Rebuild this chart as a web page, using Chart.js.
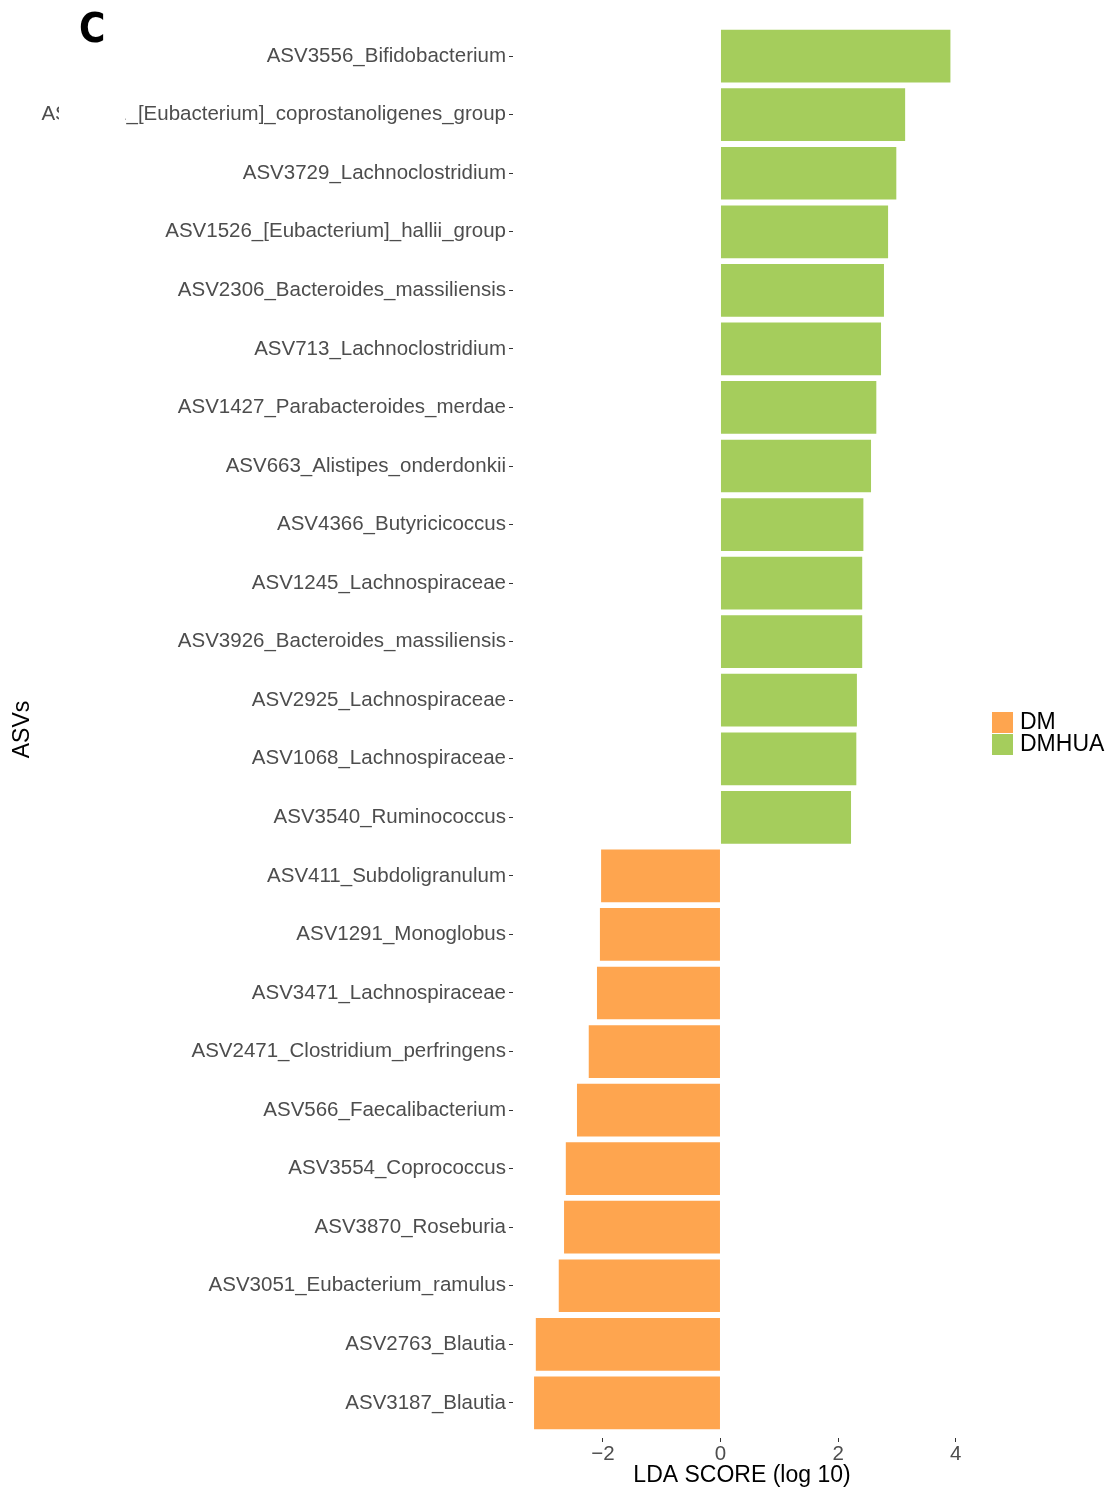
<!DOCTYPE html>
<html>
<head>
<meta charset="utf-8">
<script src="https://cdn.jsdelivr.net/npm/chart.js@4.4.1/dist/chart.umd.min.js"></script>
<style>
  html, body { margin: 0; padding: 0; background: #fff; }
  #wrap { position: relative; width: 1106px; height: 1489px; }
</style>
</head>
<body>
<div id="wrap"><canvas id="ldaChart"></canvas></div>
<script>
// ASVs from top to bottom
const asvLabels = [
    'ASV3556_Bifidobacterium',
    'ASV2911_[Eubacterium]_coprostanoligenes_group',
    'ASV3729_Lachnoclostridium',
    'ASV1526_[Eubacterium]_hallii_group',
    'ASV2306_Bacteroides_massiliensis',
    'ASV713_Lachnoclostridium',
    'ASV1427_Parabacteroides_merdae',
    'ASV663_Alistipes_onderdonkii',
    'ASV4366_Butyricicoccus',
    'ASV1245_Lachnospiraceae',
    'ASV3926_Bacteroides_massiliensis',
    'ASV2925_Lachnospiraceae',
    'ASV1068_Lachnospiraceae',
    'ASV3540_Ruminococcus',
    'ASV411_Subdoligranulum',
    'ASV1291_Monoglobus',
    'ASV3471_Lachnospiraceae',
    'ASV2471_Clostridium_perfringens',
    'ASV566_Faecalibacterium',
    'ASV3554_Coprococcus',
    'ASV3870_Roseburia',
    'ASV3051_Eubacterium_ramulus',
    'ASV2763_Blautia',
    'ASV3187_Blautia'
];
const ldaScores = [
    3.91, 3.14, 2.99, 2.85, 2.78, 2.73, 2.65, 2.56, 2.43, 2.41, 2.41, 2.32, 2.31, 2.22,
    -2.03, -2.05, -2.10, -2.24, -2.44, -2.63, -2.66, -2.75, -3.14, -3.17
];
const groups = ['DMHUA', 'DMHUA', 'DMHUA', 'DMHUA', 'DMHUA', 'DMHUA', 'DMHUA',
    'DMHUA', 'DMHUA', 'DMHUA', 'DMHUA', 'DMHUA', 'DMHUA', 'DMHUA',
    'DM', 'DM', 'DM', 'DM', 'DM', 'DM', 'DM', 'DM', 'DM', 'DM'];
const groupNames = ['DM', 'DMHUA'];
const groupColors = { DM: '#FEA54F', DMHUA: '#A5CD5C' };
const xTicks = [-2, 0, 2, 4];

const sans = '"Liberation Sans", Arial, Helvetica, sans-serif';

function pointsFor(group) {
    const pts = [];
    ldaScores.forEach((v, i) => {
        if (groups[i] === group) pts.push({ x: v, y: i });
    });
    return pts;
}

// legend squares and the panel letter
const extras = {
    id: 'extras',
    afterDraw(chart) {
        const ctx = chart.ctx;
        ctx.save();
        // part of the second label is blanked out
        ctx.fillStyle = '#ffffff';
        ctx.fillRect(59, 96, 66, 24);

        ctx.fillStyle = '#000';
        ctx.font = 'bold 40px "Liberation Sans Narrow", "DejaVu Sans Condensed", ' + sans;
        ctx.textBaseline = 'alphabetic';
        ctx.textAlign = 'left';
        ctx.fillText('C', 79, 42);

        ctx.font = '23px ' + sans;
        ctx.textBaseline = 'middle';
        chart.data.datasets.forEach((ds, i) => {
            const y = 712 + i * 22;
            ctx.fillStyle = ds.backgroundColor;
            ctx.fillRect(992, y, 21, 21);
            ctx.fillStyle = '#000';
            ctx.fillText(ds.label, 1020, y + 11);
        });
        ctx.restore();
    }
};

new Chart(document.getElementById('ldaChart'), {
    type: 'bar',
    data: {
        datasets: groupNames.map(g => ({
            label: g,
            data: pointsFor(g),
            backgroundColor: groupColors[g],
            borderWidth: 0,
            barPercentage: 0.9,
            categoryPercentage: 1,
            grouped: false
        }))
    },
    plugins: [extras],
    options: {
        indexAxis: 'y',
        responsive: true,
        maintainAspectRatio: false,
        animation: false,
        layout: { padding: { top: 21, right: 135, bottom: 0, left: 0 } },
        plugins: {
            legend: { display: false },
            tooltip: { enabled: false }
        },
        scales: {
            x: {
                type: 'linear',
                min: -3.528,
                max: 4.26,
                afterFit(scale) { scale.height = 51; },
                afterBuildTicks(scale) {
                    scale.ticks = xTicks.map(v => ({ value: v }));
                },
                ticks: {
                    color: '#4D4D4D',
                    font: { family: sans, size: 20.5 },
                    padding: 0,
                    callback: v => (v < 0 ? '\u2212' + Math.abs(v) : String(v))
                },
                grid: {
                    display: true,
                    drawOnChartArea: false,
                    drawTicks: true,
                    tickLength: 4,
                    color: '#333333'
                },
                border: { display: false },
                title: {
                    display: true,
                    text: 'LDA SCORE (log 10)',
                    color: '#000',
                    font: { family: sans, size: 23 },
                    padding: { top: 0, bottom: 0 }
                }
            },
            y: {
                type: 'linear',
                reverse: true,
                offset: false,
                min: -0.6,
                max: 23.6,
                afterFit(scale) { scale.width = 513; },
                ticks: {
                    stepSize: 1,
                    includeBounds: false,
                    autoSkip: false,
                    color: '#4D4D4D',
                    font: { family: sans, size: 20.5 },
                    padding: 3,
                    callback: v => (asvLabels[v] !== undefined ? asvLabels[v] : '')
                },
                grid: {
                    display: true,
                    offset: false,
                    drawOnChartArea: false,
                    drawTicks: true,
                    tickLength: 4,
                    color: '#333333'
                },
                border: { display: false },
                title: {
                    display: true,
                    text: 'ASVs',
                    color: '#000',
                    font: { family: sans, size: 23 },
                    padding: { top: 9, bottom: 0 }
                }
            }
        }
    }
});
</script>
</body>
</html>
